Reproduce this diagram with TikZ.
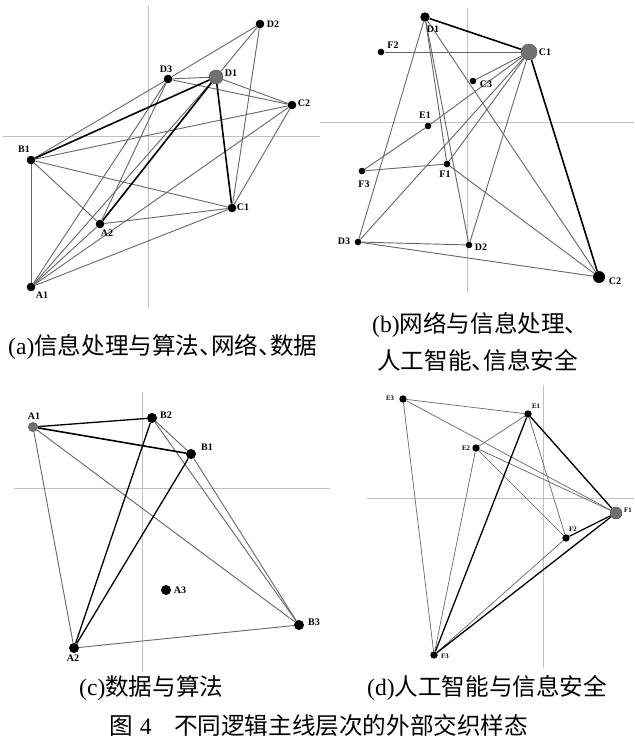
\documentclass[tikz,border=0pt]{standalone}
\usepackage{fontspec}
\setmainfont{Liberation Serif}
\newfontfamily\cjk{Noto Sans CJK SC}
\newcommand\dunhao{\makebox[0.5em][l]{、}}
\pgfdeclarelayer{edges}
\pgfsetlayers{edges,main}
\definecolor{edgegray}{HTML}{666666}
\definecolor{axisgray}{HTML}{C0C0C0}
\definecolor{nodegray}{HTML}{707070}
\tikzset{
  axisline/.style={draw=axisgray,line width=0.6pt},
  ge/.style={draw=edgegray,line width=0.9pt},
  be/.style={draw=black,line width=1.6pt},
  dotA/.style={circle,fill=black,inner sep=0pt,minimum size=8.6pt},
  dotB/.style={circle,fill=black,inner sep=0pt,minimum size=6.6pt},
  dotC/.style={circle,fill=black,inner sep=0pt,minimum size=10pt},
  dotD/.style={circle,fill=black,inner sep=0pt,minimum size=7.4pt},
  gnode/.style={circle,fill=nodegray,draw=black!70,line width=0.4pt,inner sep=0pt},
  lab/.style={font=\bfseries\fontsize{10}{10}\selectfont,inner sep=0pt},
  labs/.style={font=\bfseries\fontsize{6.8}{7}\selectfont,inner sep=0pt},
  capt/.style={anchor=west,inner sep=0pt,font=\fontsize{23.6}{27}\selectfont},
}
\begin{document}
\begin{tikzpicture}[x=1pt,y=-1pt]
\useasboundingbox (0,0) rectangle (634,746);
% ---------- panel (a) ----------
\node[dotA] (aD2) at (260,24) {};
\node[dotA] (aD3) at (168,79) {};
\node[gnode,minimum size=14pt] (aD1) at (216,77) {};
\node[dotA] (aC2) at (292,105) {};
\node[dotA] (aB1) at (31,160) {};
\node[dotA] (aC1) at (232,208) {};
\node[dotA] (aA2) at (100,224) {};
\node[dotA] (aA1) at (31,287) {};
\node[lab] (laD2) at (273,24) {D2};
\node[lab] (laD3) at (166,69) {D3};
\node[lab] (laD1) at (231,73) {D1};
\node[lab] (laC2) at (304,103) {C2};
\node[lab] (laB1) at (24,149) {B1};
\node[lab] (laC1) at (243,207) {C1};
\node[lab] (laA2) at (107,233) {A2};
\node[lab] (laA1) at (42,295) {A1};
% ---------- panel (b) ----------
\node[dotB,minimum size=9.4pt] (bD1) at (425,17) {};
\node[gnode,minimum size=16pt] (bC1) at (529,52) {};
\node[dotB] (bF2) at (381,52) {};
\node[dotB] (bC3) at (473,81) {};
\node[dotB] (bE1) at (428,126) {};
\node[dotB] (bF1) at (447,164) {};
\node[dotB] (bF3) at (362,171) {};
\node[dotB] (bD3) at (358,242) {};
\node[dotB] (bD2) at (469,245) {};
\node[dotB,minimum size=12pt] (bC2) at (599,277) {};
\node[lab] (lbD1) at (433,29) {D1};
\node[lab] (lbF2) at (393,45) {F2};
\node[lab] (lbC1) at (545,52) {C1};
\node[lab] (lbC3) at (486,84) {C3};
\node[lab] (lbE1) at (425,115) {E1};
\node[lab] (lbF1) at (445,174) {F1};
\node[lab] (lbF3) at (364,184) {F3};
\node[lab] (lbD3) at (344,241) {D3};
\node[lab] (lbD2) at (481,247) {D2};
\node[lab] (lbC2) at (615,281) {C2};
% ---------- panel (c) ----------
\node[gnode,minimum size=9.4pt] (cA1) at (33,427) {};
\node[dotC] (cB2) at (152,418) {};
\node[dotC] (cB1) at (191,454) {};
\node[dotC] (cA3) at (166,590) {};
\node[dotC] (cB3) at (299,625) {};
\node[dotC] (cA2) at (74,648) {};
\node[lab] (lcA1) at (34,416) {A1};
\node[lab] (lcB2) at (166,415) {B2};
\node[lab] (lcB1) at (207,447) {B1};
\node[lab] (lcA3) at (180,590) {A3};
\node[lab] (lcB3) at (314,622) {B3};
\node[lab] (lcA2) at (73,658) {A2};
% ---------- panel (d) ----------
\node[dotD] (dE3) at (403,399) {};
\node[dotD] (dE1) at (528,414) {};
\node[dotD] (dE2) at (476,448) {};
\node[gnode,minimum size=12pt] (dF1) at (616,513) {};
\node[dotD] (dF2) at (566,538) {};
\node[dotD] (dF3) at (434,655) {};
\node[labs] (ldE3) at (390,398) {E3};
\node[labs] (ldE1) at (536,406) {E1};
\node[labs] (ldE2) at (466,448) {E2};
\node[labs] (ldF1) at (628,510) {F1};
\node[labs] (ldF2) at (573,529) {F2};
\node[labs] (ldF3) at (445,656) {F3};
% ---------- captions ----------
\node[capt] (capa) at (8,347) {(a)\cjk 信息处理与算法\dunhao 网络\dunhao 数据};
\node[capt] (capb1) at (372,325) {(b)\cjk 网络与信息处理\dunhao};
\node[capt] (capb2) at (377,360) {\cjk 人工智能\dunhao 信息安全};
\node[capt] (capc) at (79,688) {(c)\cjk 数据与算法};
\node[capt] (capd) at (367,688) {(d)\cjk 人工智能与信息安全};
\node[capt] (title) at (109,726) {{\cjk 图}\hspace{0.3em}4\hspace{0.95em}{\cjk 不同逻辑主线层次的外部交织样态}};
% ---------- edges ----------
\begin{pgfonlayer}{edges}
% axes
\draw[axisline] (148,6) -- (148,308);
\draw[axisline] (3,136) -- (320,136);
\draw[axisline] (467,8) -- (467,293);
\draw[axisline] (320,122) -- (634,122);
\draw[axisline] (142,392) -- (142,672);
\draw[axisline] (14,488) -- (330,488);
\draw[axisline] (543,385) -- (543,668);
\draw[axisline] (367,498) -- (634,498);
% (a)
\foreach \u/\v in {aD2/aD3,aD2/aD1,aD2/aC1,aD3/aD1,aD3/aC2,aD3/aB1,aD3/aA2,aD3/aA1,
  aD1/aC2,aD1/aA1,aC2/aB1,aC2/aC1,aC2/aA1,aB1/aC1,aB1/aA2,aB1/aA1,aA2/aC1,aA1/aA2,aA1/aC1}
  \draw[ge] (\u) -- (\v);
\foreach \u/\v in {aD1/aB1,aD1/aA2,aD1/aC1}
  \draw[be] (\u) -- (\v);
% (b)
\foreach \u/\v in {bF2/bC1,bC3/bC1,bE1/bC1,bE1/bF3,bF3/bF1,bF1/bC1,bD3/bC1,bD2/bC1,
  bD1/bD3,bD1/bF1,bD1/bD2,bD1/bC2,bF1/bC2,bD3/bD2,bD3/bC2}
  \draw[ge] (\u) -- (\v);
\foreach \u/\v in {bD1/bC1,bC1/bC2}
  \draw[be] (\u) -- (\v);
% (c)
\foreach \u/\v in {cA1/cA2,cA1/cB3,cB2/cB1,cB2/cB3,cB1/cB3,cA2/cB3}
  \draw[ge] (\u) -- (\v);
\draw[be,line width=1.3pt] (cA1) -- (cB2);
\draw[be] (cA1) -- (cB1);
\draw[be,line width=1.3pt] (cB2) -- (cA2);
\draw[be,line width=1.3pt] (cB1) -- (cA2);
% (d)
\foreach \u/\v in {dE3/dE1,dE3/dF1,dE3/dF3,dE1/dE2,dE1/dF2,dE2/dF1,dE2/dF2,dE2/dF3,dF2/dF3}
  \draw[ge,line width=0.7pt] (\u) -- (\v);
\foreach \u/\v in {dE1/dF1,dE1/dF3,dF1/dF2,dF1/dF3}
  \draw[be,line width=1.3pt] (\u) -- (\v);
\end{pgfonlayer}
\end{tikzpicture}
\end{document}
